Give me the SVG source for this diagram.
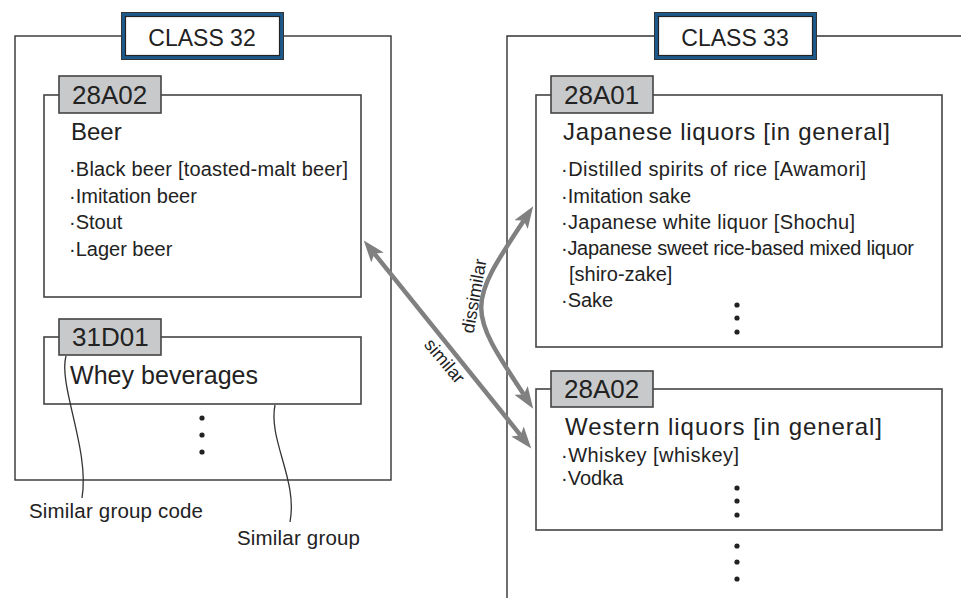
<svg xmlns="http://www.w3.org/2000/svg" width="961" height="598" viewBox="0 0 961 598">
<style>
text{font-family:"Liberation Sans","DejaVu Sans",sans-serif;fill:#222}
.frame{fill:none;stroke:#333;stroke-width:1.4}
.box{fill:#fff;stroke:#444;stroke-width:1.6}
.tab{fill:#c8c9cb;stroke:#444;stroke-width:1.6}
.code{font-size:26px}
.title{font-size:24px}
.item{font-size:20px}
.cls{font-size:23px;text-anchor:middle}
.note{font-size:20.5px}
.lead{fill:none;stroke:#333;stroke-width:1.3}
.arrow{fill:none;stroke:#808080;stroke-width:4.5;marker-start:url(#ah);marker-end:url(#ah)}
.lbl{font-size:18px;text-anchor:middle}
</style>
<defs>
<marker id="ah" markerUnits="userSpaceOnUse" markerWidth="24" markerHeight="18" refX="5" refY="8" orient="auto-start-reverse" viewBox="0 0 24 16">
<path d="M0,0 L22,8 L0,16 L5,8 z" fill="#808080"/>
</marker>
<circle id="dot" r="2.6" fill="#222"/>
</defs>

<g id="class32">
<rect class="frame" x="15" y="36" width="376" height="444"/>
<rect x="123.5" y="14.5" width="158" height="43" fill="#fff" stroke="#1d5a8c" stroke-width="4"/>
<rect x="121.5" y="12.5" width="162" height="47" fill="none" stroke="#333" stroke-width="1"/>
<rect x="125.5" y="16.5" width="154" height="39" fill="none" stroke="#222" stroke-width="1.2"/>
<text class="cls" x="202" y="46">CLASS 32</text>
</g>

<g id="g28A02-left">
<rect class="box" x="44" y="95" width="317" height="202"/>
<rect class="tab" x="59" y="76" width="102" height="37"/>
<text class="code" x="72" y="104">28A02</text>
<text class="title" x="71" y="140">Beer</text>
<text class="item" x="69" y="176" textLength="279">·Black beer [toasted-malt beer]</text>
<text class="item" x="69" y="203">·Imitation beer</text>
<text class="item" x="69" y="229">·Stout</text>
<text class="item" x="69" y="256">·Lager beer</text>
</g>

<g id="g31D01">
<rect class="box" x="44" y="337" width="317" height="67"/>
<rect class="tab" x="59" y="319" width="102" height="36"/>
<text class="code" x="72" y="346">31D01</text>
<text class="title" x="70" y="384" style="font-size:25px" textLength="188">Whey beverages</text>
<use href="#dot" x="202" y="418"/>
<use href="#dot" x="202" y="435"/>
<use href="#dot" x="202" y="452"/>
</g>

<g id="annotations">
<path class="lead" d="M66,356 C58,385 90,450 82,498"/>
<text class="note" x="29" y="518" textLength="174">Similar group code</text>
<path class="lead" d="M275,405 C268,440 298,480 290,522"/>
<text class="note" x="237" y="545" textLength="123">Similar group</text>
</g>

<g id="class33">
<path class="frame" d="M961,36 H507 V598"/>
<rect x="656.5" y="14.5" width="158" height="43" fill="#fff" stroke="#1d5a8c" stroke-width="4"/>
<rect x="654.5" y="12.5" width="162" height="47" fill="none" stroke="#333" stroke-width="1"/>
<rect x="658.5" y="16.5" width="154" height="39" fill="none" stroke="#222" stroke-width="1.2"/>
<text class="cls" x="735" y="46">CLASS 33</text>
<use href="#dot" x="737" y="546"/>
<use href="#dot" x="737" y="562"/>
<use href="#dot" x="737" y="579"/>
</g>

<g id="g28A01">
<rect class="box" x="536" y="95" width="406" height="252"/>
<rect class="tab" x="551" y="76" width="102" height="37"/>
<text class="code" x="564" y="104">28A01</text>
<text class="title" x="563" y="140" textLength="327">Japanese liquors [in general]</text>
<text class="item" x="561" y="176" textLength="305">·Distilled spirits of rice [Awamori]</text>
<text class="item" x="561" y="203">·Imitation sake</text>
<text class="item" x="561" y="229" textLength="294">·Japanese white liquor [Shochu]</text>
<text class="item" x="561" y="255" textLength="353">·Japanese sweet rice-based mixed liquor</text>
<text class="item" x="569" y="281">[shiro-zake]</text>
<text class="item" x="561" y="307">·Sake</text>
<use href="#dot" x="737" y="305"/>
<use href="#dot" x="737" y="318"/>
<use href="#dot" x="737" y="332"/>
</g>

<g id="g28A02-right">
<rect class="box" x="536" y="389" width="406" height="141"/>
<rect class="tab" x="551" y="371" width="102" height="36"/>
<text class="code" x="564" y="398">28A02</text>
<text class="title" x="565" y="435" textLength="317">Western liquors [in general]</text>
<text class="item" x="561" y="462" textLength="178">·Whiskey [whiskey]</text>
<text class="item" x="561" y="485">·Vodka</text>
<use href="#dot" x="737" y="488"/>
<use href="#dot" x="737" y="501"/>
<use href="#dot" x="737" y="515"/>
</g>

<g id="connectors">
<path class="arrow" d="M374.4,253.7 L520.6,435.3"/>
<text class="lbl" transform="translate(440,365) rotate(50)">similar</text>
<path class="arrow" d="M523.8,220.5 C467,306 467,309 523.8,394.5"/>
<text class="lbl" transform="translate(480,297) rotate(-80)">dissimilar</text>
</g>
</svg>
